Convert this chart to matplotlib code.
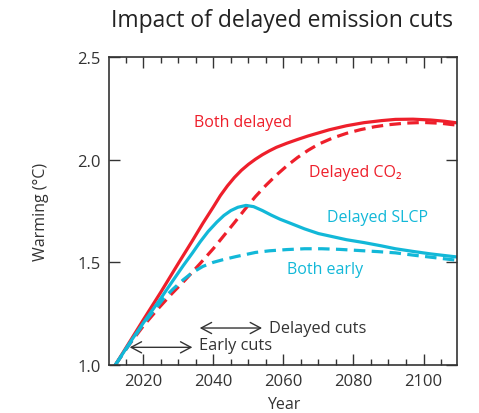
import matplotlib
matplotlib.use("Agg")
import matplotlib.pyplot as plt
from matplotlib.ticker import MultipleLocator

plt.rcParams['font.family'] = ['Open Sans', 'DejaVu Sans']

RED = "#ee1f2b"
CYAN = "#12b8d8"
INK = "#333333"

# ---- data ----
years_both_delayed = [2012, 2016, 2020, 2025, 2030, 2034, 2037, 2040, 2042, 2044,
                      2046, 2048, 2050, 2052, 2054, 2056, 2058, 2061, 2064, 2067,
                      2070, 2073, 2078, 2083, 2088, 2092, 2097, 2102, 2106, 2110]
both_delayed = [1.00, 1.11, 1.22, 1.355, 1.495, 1.605, 1.69, 1.77, 1.825, 1.872,
                1.913, 1.948, 1.977, 2.002, 2.024, 2.043, 2.06, 2.08, 2.098, 2.115,
                2.13, 2.145, 2.165, 2.18, 2.19, 2.196, 2.197, 2.193, 2.187, 2.178]

years_delayed_co2 = [2012, 2016, 2020, 2024, 2028, 2032, 2036, 2040, 2043, 2046,
                     2049, 2052, 2055, 2058, 2061, 2064, 2067, 2070, 2074, 2078,
                     2082, 2086, 2090, 2095, 2100, 2105, 2110]
delayed_co2 = [1.00, 1.10, 1.19, 1.27, 1.345, 1.415, 1.49, 1.567, 1.63, 1.693,
               1.758, 1.82, 1.875, 1.925, 1.97, 2.01, 2.045, 2.075, 2.105, 2.128,
               2.146, 2.16, 2.17, 2.178, 2.181, 2.177, 2.167]

years_delayed_slcp = [2012, 2016, 2020, 2024.8, 2028, 2031.4, 2034, 2036.2, 2038.5, 2041,
                      2043, 2045, 2047, 2049.3, 2051.5, 2054, 2056.5, 2059, 2062, 2066,
                      2070, 2074, 2078, 2083, 2088, 2092, 2097, 2102, 2106, 2110]
delayed_slcp = [1.00, 1.105, 1.205, 1.32, 1.40, 1.484, 1.545, 1.599, 1.65, 1.696,
                1.728, 1.752, 1.768, 1.777, 1.771, 1.752, 1.73, 1.71, 1.69, 1.663,
                1.64, 1.625, 1.61, 1.596, 1.58, 1.566, 1.553, 1.541, 1.533, 1.525]

years_both_early = [2012, 2016, 2020, 2025.7, 2028.5, 2031.4, 2034, 2037, 2040, 2043,
                    2046.5, 2052, 2056, 2061, 2066, 2071, 2076, 2082, 2087, 2092,
                    2097, 2102, 2106, 2110]
both_early = [1.00, 1.10, 1.20, 1.322, 1.37, 1.415, 1.45, 1.48, 1.50, 1.514,
              1.528, 1.548, 1.556, 1.562, 1.566, 1.566, 1.563, 1.557, 1.552, 1.546,
              1.535, 1.525, 1.517, 1.509]

label_text = ["Both delayed", "Delayed CO\u2082", "Delayed SLCP", "Both early"]
label_pos = [(2048.5, 2.184), (2080.5, 1.94), (2087, 1.72), (2072, 1.468)]
label_color = [RED, RED, CYAN, CYAN]

early_cuts = (2015.3, 2034.8)
delayed_cuts = (2035.3, 2054.7)

# ---- figure ----
fig = plt.figure(figsize=(4.79, 4.14), dpi=100)
ax = fig.add_axes([0.2276, 0.116, 0.7275, 0.744])

dash = (0, (3.6, 2.0))
ax.plot(years_both_delayed, both_delayed, color=RED, lw=2.3)
ax.plot(years_delayed_co2, delayed_co2, color=RED, lw=2.3, linestyle=dash)
ax.plot(years_delayed_slcp, delayed_slcp, color=CYAN, lw=2.3)
ax.plot(years_both_early, both_early, color=CYAN, lw=2.3, linestyle=dash)

for txt, (xx, yy), c in zip(label_text, label_pos, label_color):
    ax.text(xx, yy, txt, color=c, fontsize=11.5, ha="center", va="center")

# arrows for the cut windows
arrow_kw = dict(arrowstyle="<->,head_length=0.75,head_width=0.4", color=INK, lw=1.0)
ax.annotate("", xy=(early_cuts[0], 1.086), xytext=(early_cuts[1], 1.086),
            arrowprops=arrow_kw)
ax.text(early_cuts[1] + 1.2, 1.096, "Early cuts", color=INK, fontsize=11.8,
        ha="left", va="center")
ax.annotate("", xy=(delayed_cuts[0], 1.18), xytext=(delayed_cuts[1], 1.18),
            arrowprops=arrow_kw)
ax.text(delayed_cuts[1] + 1.2, 1.18, "Delayed cuts", color=INK, fontsize=11.8,
        ha="left", va="center")

ax.set_xlim(2010.2, 2109.7)
ax.set_ylim(1.0, 2.5)
ax.xaxis.set_major_locator(MultipleLocator(20))
ax.xaxis.set_minor_locator(MultipleLocator(5))
ax.yaxis.set_major_locator(MultipleLocator(0.5))
ax.yaxis.set_major_formatter(plt.FormatStrFormatter("%.1f"))
ax.tick_params(which="both", direction="in", top=True, right=True, colors=INK,
               labelsize=12, width=1.0)
ax.tick_params(which="major", length=8, pad=6)
ax.tick_params(which="minor", length=4)
for s in ax.spines.values():
    s.set_color(INK)
    s.set_linewidth(1.2)

ax.set_xlabel("Year", color=INK, fontsize=11.5, labelpad=5)
ax.set_ylabel("Warming (\u00b0C)", color=INK, fontsize=11.5, labelpad=20)
fig.text(0.588, 0.95, "Impact of delayed emission cuts", color="#222222",
         fontsize=16.5, ha="center", va="center")

fig.savefig("out.png", dpi=100)
